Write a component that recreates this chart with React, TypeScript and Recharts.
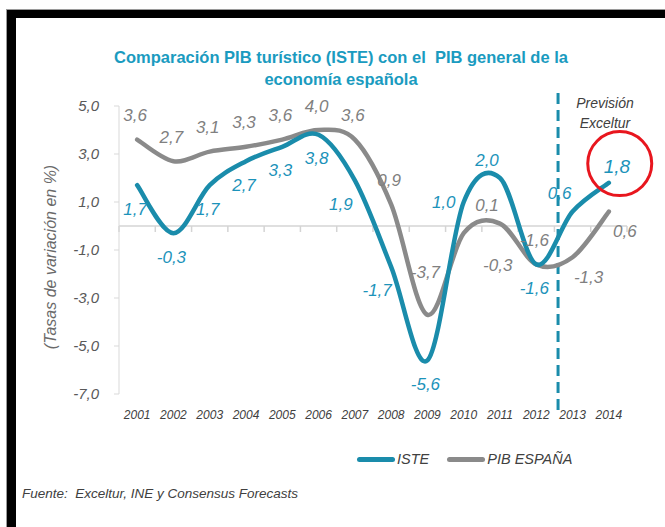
import React from "react";
import {
  LabelList,
  Line,
  LineChart,
  ReferenceDot,
  ReferenceLine,
  XAxis,
  YAxis
} from "recharts";

const years = [2001, 2002, 2003, 2004, 2005, 2006, 2007, 2008, 2009, 2010, 2011, 2012, 2013, 2014];
const isteValues = [1.7, -0.3, 1.7, 2.7, 3.3, 3.8, 1.9, -1.7, -5.6, 1.0, 2.0, -1.6, 0.6, 1.8];
const pibValues = [3.6, 2.7, 3.1, 3.3, 3.6, 4.0, 3.6, 0.9, -3.7, -0.3, 0.1, -1.6, -1.3, 0.6];
const yTicks = [-7, -5, -3, -1, 1, 3, 5];
const forecastFrom = 2012.6;

const rows = years.map((year, i) => ({ year, iste: isteValues[i], pib: pibValues[i] }));

const TEAL = "#1a8cab";
const TEAL_TEXT = "#1c93ba";
const GREY = "#8a8a8a";
const GREY_TEXT = "#808080";
const FONT = '"Liberation Sans", Arial, sans-serif';

const series = [
  { key: "iste", name: "ISTE", color: TEAL },
  { key: "pib", name: "PIB ESPAÑA", color: GREY }
];

// where each data label sits relative to its point
const offsets: Record<string, { dx: number; dy: number }> = {
  above: { dx: -2, dy: -24 },
  farAbove: { dx: -2, dy: -42 },
  below: { dx: -2, dy: 24 },
  belowLeft: { dx: -14, dy: 24 },
  left: { dx: -20, dy: 0 },
  aboveLeft: { dx: -13, dy: -18 },
  aboveRight: { dx: 8, dy: -16 },
  belowRight: { dx: 16, dy: 20 },
  farBelowRight: { dx: 34, dy: 32 }
};
const isteSides = ["below", "below", "below", "below", "below", "below", "belowLeft", "belowLeft", "below", "left", "aboveLeft", "below", "aboveLeft", "aboveRight"];
const pibSides = ["above", "above", "above", "above", "above", "above", "above", "above", "farAbove", "farBelowRight", "aboveLeft", "above", "belowRight", "belowRight"];

const fmt = (v: number) => v.toFixed(1).replace(".", ",");

// Excel-style smoothed line (uniform Catmull-Rom)
function excelSmooth(context: any) {
  let pts: number[][] = [];
  return {
    areaStart() {},
    areaEnd() {},
    lineStart() {
      pts = [];
    },
    point(x: number, y: number) {
      pts.push([+x, +y]);
    },
    lineEnd() {
      if (!pts.length) return;
      context.moveTo(pts[0][0], pts[0][1]);
      for (let i = 0; i < pts.length - 1; i++) {
        const p0 = pts[i - 1] || pts[i];
        const p1 = pts[i];
        const p2 = pts[i + 1];
        const p3 = pts[i + 2] || p2;
        context.bezierCurveTo(
          p1[0] + (p2[0] - p0[0]) / 6,
          p1[1] + (p2[1] - p0[1]) / 6,
          p2[0] - (p3[0] - p1[0]) / 6,
          p2[1] - (p3[1] - p1[1]) / 6,
          p2[0],
          p2[1]
        );
      }
    }
  };
}

const makeLabel = (sides: string[], color: string, bigIndex = -1) => (props: any) => {
  const x = props.x ?? props.viewBox?.x;
  const y = props.y ?? props.viewBox?.y;
  const o = offsets[sides[props.index]] ?? offsets.above;
  return (
    <text
      x={x + o.dx}
      y={y + o.dy}
      textAnchor="middle"
      dominantBaseline="central"
      fill={color}
      fontSize={props.index === bigIndex ? 19 : 17}
      fontStyle="italic"
      fontFamily={FONT}
    >
      {fmt(Number(props.value))}
    </text>
  );
};

const boundaries = [...years.map((y) => y - 0.5), years[years.length - 1] + 0.5];

export default function App() {
  return (
    <div
      style={{
        position: "absolute",
        left: 0,
        top: 0,
        width: 665,
        height: 527,
        overflow: "hidden",
        background: "#fff",
        fontFamily: FONT
      }}
    >
      <div
        style={{
          position: "absolute",
          left: 7,
          top: 10,
          width: 720,
          height: 600,
          borderTop: "8px solid #000",
          borderLeft: "9px solid #000",
          boxShadow: "-1px -1px 0 #9a9a9a"
        }}
      />
      <div
        style={{
          position: "absolute",
          left: 16,
          top: 46,
          width: 650,
          textAlign: "center",
          color: "#1a9bc0",
          fontWeight: "bold",
          fontSize: 16.5,
          lineHeight: "22px"
        }}
      >
        Comparación PIB turístico (ISTE) con el&nbsp; PIB general de la
        <br />
        economía española
      </div>
      <div
        style={{
          position: "absolute",
          left: 51,
          top: 257,
          transform: "translate(-50%, -50%) rotate(-90deg)",
          whiteSpace: "nowrap",
          fontStyle: "italic",
          fontSize: 16,
          color: "#6a6a6a"
        }}
      >
        (Tasas de variación en %)
      </div>
      <div
        style={{
          position: "absolute",
          left: 565,
          top: 93,
          width: 80,
          textAlign: "center",
          fontStyle: "italic",
          fontSize: 14,
          lineHeight: "20px",
          color: "#404040"
        }}
      >
        Previsión
        <br />
        Exceltur
      </div>

      <div style={{ position: "absolute", left: 0, top: 0 }}>
        <LineChart width={665} height={527} data={rows} margin={{ top: 106, right: 38, bottom: 103, left: 59 }}>
          <XAxis
            dataKey="year"
            type="number"
            domain={[2000.5, 2014.5]}
            ticks={years}
            interval={0}
            axisLine={false}
            tickLine={false}
            tickMargin={10}
            tick={{ fontSize: 12, fontStyle: "italic", fill: "#404040" }}
          />
          <YAxis
            type="number"
            domain={[-7, 5]}
            ticks={yTicks}
            interval={0}
            width={60}
            axisLine={{ stroke: "#d9d9d9" }}
            tickLine={{ stroke: "#d9d9d9" }}
            tickSize={5}
            tickMargin={15}
            tickFormatter={fmt}
            tick={{ fontSize: 15, fontStyle: "italic", fill: "#595959" }}
          />
          <ReferenceLine y={0} stroke="#d4d4d4" strokeWidth={1.5} />
          {boundaries.map((b) => (
            <ReferenceLine
              key={b}
              segment={[
                { x: b, y: 0 },
                { x: b, y: -0.25 }
              ]}
              stroke="#d4d4d4"
              strokeWidth={1.5}
              ifOverflow="visible"
            />
          ))}
          <ReferenceLine
            x={forecastFrom}
            shape={(p: any) => {
              const top = Math.min(p.y1, p.y2);
              const bottom = Math.max(p.y1, p.y2);
              return (
                <line
                  x1={p.x1}
                  x2={p.x2}
                  y1={top - 13}
                  y2={bottom + 19}
                  stroke={TEAL}
                  strokeWidth={3}
                  strokeDasharray="11 6"
                />
              );
            }}
          />
          <Line
            dataKey="pib"
            name="PIB ESPAÑA"
            type={excelSmooth as any}
            stroke={GREY}
            strokeWidth={4.5}
            strokeLinecap="round"
            dot={false}
            activeDot={false}
            isAnimationActive={false}
          >
            <LabelList dataKey="pib" content={makeLabel(pibSides, GREY_TEXT)} />
          </Line>
          <Line
            dataKey="iste"
            name="ISTE"
            type={excelSmooth as any}
            stroke={TEAL}
            strokeWidth={4.5}
            strokeLinecap="round"
            dot={false}
            activeDot={false}
            isAnimationActive={false}
          >
            <LabelList dataKey="iste" content={makeLabel(isteSides, TEAL_TEXT, years.length - 1)} />
          </Line>
          <ReferenceDot
            x={2014.3}
            y={2.6}
            r={32}
            fill="none"
            stroke="#e8161e"
            strokeWidth={3}
            ifOverflow="visible"
          />
        </LineChart>
      </div>

      <div
        style={{
          position: "absolute",
          left: 357,
          top: 451,
          display: "flex",
          alignItems: "center",
          fontStyle: "italic",
          fontSize: 14.5,
          color: "#404040"
        }}
      >
        {series.map((s) => (
          <div key={s.key} style={{ display: "flex", alignItems: "center", marginRight: 18 }}>
            <span
              style={{
                display: "inline-block",
                width: 38,
                height: 5,
                borderRadius: 3,
                background: s.color,
                marginRight: 2
              }}
            />
            <span>{s.name}</span>
          </div>
        ))}
      </div>

      <div
        style={{
          position: "absolute",
          left: 22,
          top: 486,
          fontStyle: "italic",
          fontSize: 13.5,
          color: "#404040"
        }}
      >
        Fuente:&nbsp; Exceltur, INE y Consensus Forecasts
      </div>
    </div>
  );
}
